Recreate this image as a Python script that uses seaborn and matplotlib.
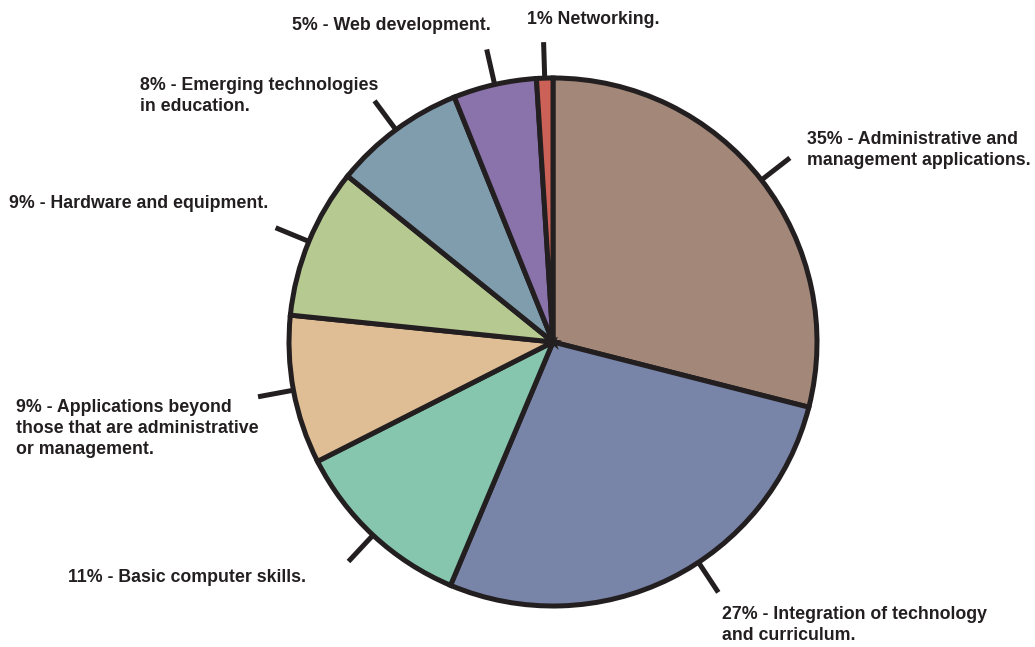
import numpy as np
import matplotlib
matplotlib.use("Agg")
import matplotlib.pyplot as plt
import seaborn as sns

# slice sizes as drawn (angular share) and the printed percentages
slice_sizes = [29.0, 27.4, 11.2, 9.1, 9.2, 8.1, 5.1, 1.0]
printed_pct = [35, 27, 11, 9, 9, 8, 5, 1]
topics = [
    "Administrative and\nmanagement applications.",
    "Integration of technology\nand curriculum.",
    "Basic computer skills.",
    "Applications beyond\nthose that are administrative\nor management.",
    "Hardware and equipment.",
    "Emerging technologies\nin education.",
    "Web development.",
    "Networking.",
]
colors = ["#a3887a", "#7884a8", "#86c5ae", "#e0be95",
          "#b5c991", "#809dae", "#8a72aa", "#cc6257"]

INK = "#231f20"
W, H = 1035, 647
CX, CY, R = 553, H - 342, 264

# text anchors (pixel x, pixel y of first line top) for each label
label_pos = [(807, 131), (722, 606), (68, 569), (16, 399),
             (9, 195), (140, 77), (292, 17), (527, 11)]
# leader angle tweaks (degrees) where the reference line is off the slice middle
leader_shift = [0, 7, 0, 0, 0, 0, 0, 0]

sns.set_theme(style="white")
plt.rcParams["font.family"] = ["Liberation Sans", "DejaVu Sans"]

fig = plt.figure(figsize=(W / 100, H / 100), dpi=100)
ax = fig.add_axes([0, 0, 1, 1])

wedges, _ = ax.pie(
    slice_sizes, colors=colors, startangle=90, counterclock=False,
    center=(CX, CY), radius=R, frame=True,
    wedgeprops=dict(edgecolor=INK, linewidth=3.6, joinstyle="miter"),
)
ax.set_xlim(0, W)
ax.set_ylim(0, H)
ax.set_aspect("equal")
ax.axis("off")

for w, pct, topic, (tx, ty), shift in zip(wedges, printed_pct, topics, label_pos, leader_shift):
    mid = np.deg2rad((w.theta1 + w.theta2) / 2 + shift)
    x0, y0 = CX + R * np.cos(mid), CY + R * np.sin(mid)
    x1, y1 = CX + (R + 36) * np.cos(mid), CY + (R + 36) * np.sin(mid)
    ax.plot([x0, x1], [y0, y1], color=INK, lw=3.6, solid_capstyle="butt", zorder=0)
    sep = " " if pct == 1 else " - "
    ax.text(tx, H - ty, f"{pct}%{sep}{topic}", ha="left", va="top",
            fontsize=12.8, fontweight="bold", color=INK, linespacing=1.3)

fig.savefig("out.png", dpi=100)
